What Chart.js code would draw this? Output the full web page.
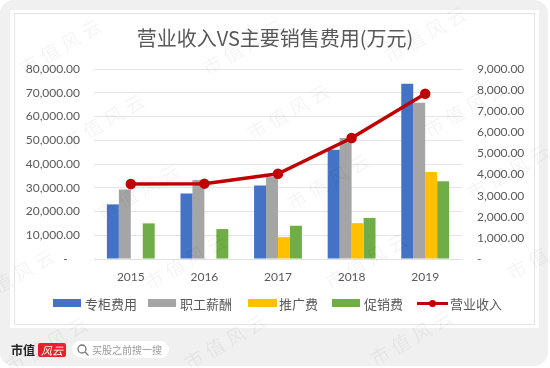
<!DOCTYPE html>
<html>
<head>
<meta charset="utf-8">
<script src="https://cdn.jsdelivr.net/npm/chart.js@4/dist/chart.umd.min.js"></script>
<style>
html, body { margin: 0; padding: 0; background: #fff; }
#page { position: relative; width: 550px; height: 368px; overflow: hidden; font-family: "Noto Sans CJK SC", sans-serif; }
#bg { position: absolute; left: 0; top: 0; width: 548px; height: 366px; background: #f0f0f0; border-radius: 14px; }
#sheet { position: absolute; left: 10px; top: 10px; width: 529px; height: 318px; background: #fff; }
#frame { position: absolute; left: 14px; top: 13px; width: 521px; height: 312px; border: 1px solid #e3e3e3; box-sizing: border-box; }
canvas { position: absolute; left: 0; top: 0; }
#legend { position: absolute; left: 0; top: 292px; width: 550px; height: 22px; font-size: 13px; color: #595959; white-space: nowrap; }
#legend .item { position: absolute; top: 0; height: 22px; display: flex; align-items: center; }
#legend .box { display: inline-block; width: 28px; height: 8px; margin-right: 4px; }
#legend .dash { position: relative; display: inline-block; width: 31px; height: 3px; margin-right: 2px; }
#legend .dash i { position: absolute; left: 12px; top: -2px; width: 7px; height: 7px; border-radius: 50%; background: inherit; }
#legend .item:nth-child(1) { left: 53px; }
#legend .item:nth-child(2) { left: 148px; }
#legend .item:nth-child(3) { left: 248px; }
#legend .item:nth-child(4) { left: 332px; }
#legend .item:nth-child(5) { left: 417px; }
#legend .item:nth-child(3) .box { width: 29px; margin-right: 2px; }
#logo { position: absolute; left: 11px; top: 341px; font: bold 12px "Noto Sans CJK SC", serif; color: #222; line-height: 18px; }
#mark { position: absolute; left: 38px; top: 343px; width: 28px; height: 14px; background: #e8212b; border-radius: 2px; color: #fff; font-size: 11px; line-height: 14px; text-align: center; font-style: italic; }
#search { position: absolute; left: 72px; top: 341px; width: 97px; height: 17px; background: #fff; border-radius: 9px; }
#search svg { position: absolute; left: 4px; top: 2px; }
#search span { position: absolute; left: 20px; top: 0; font-size: 10px; line-height: 17px; color: #9a9a9a; white-space: nowrap; }
.wm { position: absolute; font-size: 19px; letter-spacing: 5px; line-height: 22px; color: rgba(0,0,0,0.045); white-space: nowrap; transform: translate(-50%,-50%) rotate(-30deg); pointer-events: none; font-family: "Noto Sans CJK SC", sans-serif; }
</style>
</head>
<body>
<div id="page">
	<div id="bg"></div>
	<div id="sheet"></div>
	<div id="frame"></div>
	<canvas id="myChart" width="550" height="368"></canvas>
	<div id="legend"></div>
	<div id="logo">市值</div>
	<div id="mark">风云</div>
	<div id="search">
		<svg width="14" height="14" viewBox="0 0 14 14"><circle cx="6" cy="6" r="4" fill="none" stroke="#777" stroke-width="1.3"/><line x1="9" y1="9" x2="12.5" y2="12.5" stroke="#777" stroke-width="1.3"/></svg>
		<span>买股之前搜一搜</span>
	</div>
</div>
<script>
var years = ["2015", "2016", "2017", "2018", "2019"];

// 万元
var counterCost = [23000, 27600, 30900, 46000, 73800];
var staffPay = [29300, 33300, 34500, 51000, 65800];
var adCost = [null, null, 9200, 15100, 36600];
var promoCost = [15000, 12600, 14000, 17300, 32700];
var revenue = [3550, 3570, 4040, 5730, 7830];

var barNames = ["专柜费用", "职工薪酬", "推广费", "促销费"];
var lineName = "营业收入";
var barColors = ["#4472c4", "#a5a5a5", "#ffc000", "#70ad47"];
var lineColor = "#c00000";
var titleText = "营业收入VS主要销售费用(万元)";

// 水印
var marks = [[62,45],[245,45],[427,33],[105,120],[290,110],[467,107],[140,190],[330,180],[510,170],[15,275],[187,260],[368,259],[550,250],[48,343],[227,340],[413,336]];
for (var i = 0; i < marks.length; i++) {
	var s = document.createElement("span");
	s.className = "wm";
	s.textContent = "市值风云";
	s.style.left = marks[i][0] + "px";
	s.style.top = marks[i][1] + "px";
	document.getElementById("page").appendChild(s);
}

// 图例
var legend = document.getElementById("legend");
for (var i = 0; i < barNames.length; i++) {
	legend.innerHTML += '<span class="item"><span class="box" style="background:' + barColors[i] + '"></span>' + barNames[i] + '</span>';
}
legend.innerHTML += '<span class="item"><span class="dash" style="background:' + lineColor + '"><i></i></span>' + lineName + '</span>';

function money(v) {
	return v.toLocaleString("en-US", { minimumFractionDigits: 2, maximumFractionDigits: 2 });
}

var tickFont = { family: "Lato, sans-serif", size: 12 };
var tickColor = "#595959";

var ctx = document.getElementById('myChart').getContext('2d');
var chart = new Chart(ctx, {
	type: 'bar',
	data: {
		labels: years,
		datasets: [
			{ type: 'line', label: lineName, data: revenue, yAxisID: 'y1', borderColor: lineColor, backgroundColor: lineColor, borderWidth: 3.5, pointRadius: 3.5, pointBackgroundColor: lineColor, order: 0 },
			{ label: barNames[0], data: counterCost, backgroundColor: barColors[0], order: 1 },
			{ label: barNames[1], data: staffPay, backgroundColor: barColors[1], order: 1 },
			{ label: barNames[2], data: adCost, backgroundColor: barColors[2], order: 1 },
			{ label: barNames[3], data: promoCost, backgroundColor: barColors[3], order: 1 }
		]
	},
	options: {
		responsive: false,
		animation: false,
		categoryPercentage: 0.65,
		barPercentage: 1,
		layout: { padding: 0 },
		plugins: {
			legend: { display: false },
			tooltip: { enabled: false },
			title: {
				display: true,
				text: titleText,
				color: "#595959",
				font: { family: '"Noto Sans CJK SC"', size: 20, weight: 'normal' },
				padding: { top: 26, bottom: 19 }
			}
		},
		scales: {
			x: {
				grid: { display: false },
				border: { color: "#e0e0e0" },
				ticks: { color: tickColor, font: tickFont, padding: 3 },
				afterFit: function(axis) { axis.height = 109; }
			},
			y: {
				min: 0,
				max: 80000,
				grid: { color: "#e4e4e4", drawTicks: false },
				border: { display: false },
				ticks: {
					stepSize: 10000,
					color: tickColor,
					font: tickFont,
					padding: 14,
					callback: function(v) { return v === 0 ? "-\u00a0\u00a0\u00a0\u00a0" : money(v); }
				},
				afterFit: function(axis) { axis.width = 94; }
			},
			y1: {
				position: 'right',
				min: 0,
				max: 9000,
				grid: { display: false, drawTicks: false },
				border: { display: false },
				ticks: {
					stepSize: 1000,
					color: tickColor,
					font: tickFont,
					padding: 15,
					callback: function(v) { return v === 0 ? "-" : money(v); }
				},
				afterFit: function(axis) { axis.width = 88; }
			}
		}
	}
});
</script>
</body>
</html>
